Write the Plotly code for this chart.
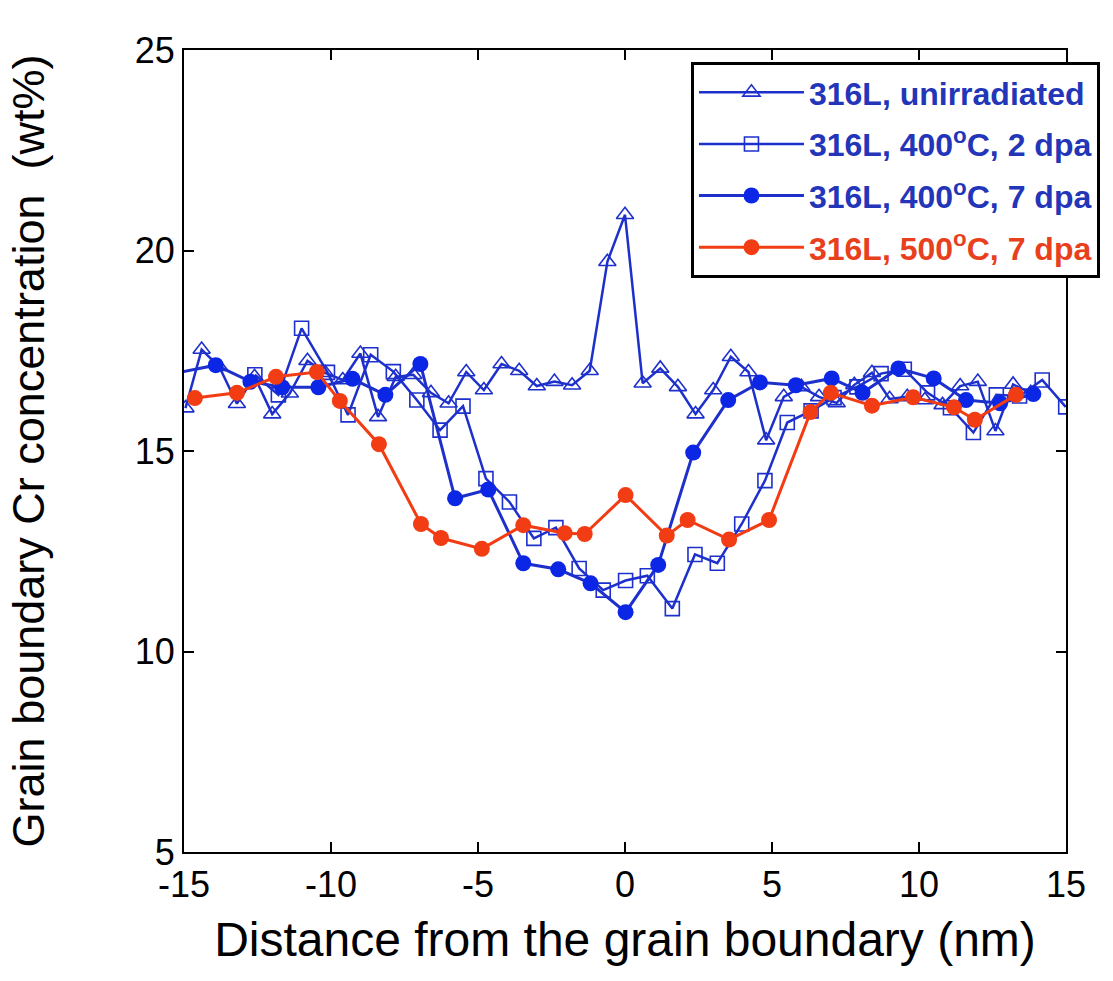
import plotly.graph_objects as go

# Cr concentration profiles across a grain boundary in 316L steel
unirr_x = [-14.95, -14.4, -13.8, -13.2, -12.6, -12.0, -11.4, -10.8, -10.2, -9.6,
           -9.0, -8.4, -7.8, -7.2, -6.6, -6.0, -5.4, -4.8, -4.2, -3.6,
           -3.0, -2.4, -1.8, -1.2, -0.6, 0.0, 0.6, 1.2, 1.8, 2.4,
           3.0, 3.6, 4.2, 4.8, 5.4, 6.0, 6.6, 7.2, 7.8, 8.4,
           9.0, 9.6, 10.2, 10.8, 11.4, 12.0, 12.6, 13.2, 13.8]
unirr_y = [16.07, 17.53, 17.1, 16.18, 16.85, 15.92, 16.44, 17.25, 16.95, 16.77,
           17.43, 15.85, 16.85, 16.9, 16.45, 16.19, 16.97, 16.52, 17.17, 17.0,
           16.62, 16.73, 16.64, 17.0, 19.72, 20.89, 16.69, 17.06, 16.6, 15.92,
           16.52, 17.35, 16.97, 15.27, 16.35, 16.6, 16.35, 16.2, 16.65, 16.95,
           16.3, 16.35, 16.27, 16.15, 16.62, 16.73, 15.5, 16.66, 16.45]

d2_x = [-12.59, -11.79, -11.0, -10.12, -9.42, -8.65, -7.88, -7.08, -6.29, -5.51,
        -4.73, -3.93, -3.1, -2.35, -1.56, -0.74, 0.02, 0.76, 1.61, 2.38,
        3.14, 3.97, 4.76, 5.52, 6.33, 7.11, 7.89, 8.71, 9.5, 10.29,
        11.07, 11.85, 12.63, 13.42, 14.19, 14.99]
d2_y = [16.9, 16.4, 18.06, 16.96, 15.9, 17.4, 16.98, 16.27, 15.52, 16.12,
        14.31, 13.73, 12.82, 13.09, 12.07, 11.53, 11.77, 11.89, 11.07, 12.42,
        12.2, 13.18, 14.26, 15.71, 16.0, 16.33, 16.6, 16.93, 17.04, 16.45,
        16.08, 15.46, 16.4, 16.37, 16.77, 16.1]

d7_x = [-15.35, -13.92, -12.74, -11.66, -10.43, -9.27, -8.15, -6.96, -5.78, -4.65,
        -3.46, -2.27, -1.17, 0.02, 1.13, 2.32, 3.51, 4.59, 5.81, 7.03,
        8.08, 9.3, 10.5, 11.6, 12.76, 13.89]
d7_y = [16.93, 17.14, 16.73, 16.59, 16.59, 16.8, 16.4, 17.17, 13.82, 14.04,
        12.2, 12.05, 11.7, 10.98, 12.16, 14.96, 16.27, 16.71, 16.64, 16.81,
        16.45, 17.06, 16.81, 16.27, 16.19, 16.42]

t500_x = [-14.63, -13.2, -11.87, -10.48, -9.7, -8.37, -6.94, -6.26, -4.87, -3.46,
          -2.05, -1.37, 0.02, 1.42, 2.13, 3.54, 4.9, 6.31, 7.0, 8.4,
          9.8, 11.19, 11.9, 13.3]
t500_y = [16.32, 16.45, 16.85, 16.97, 16.25, 15.17, 13.18, 12.83, 12.56, 13.15,
          12.95, 12.93, 13.9, 12.89, 13.28, 12.79, 13.28, 15.97, 16.45, 16.13,
          16.34, 16.09, 15.78, 16.4]

x_ticks = [-15, -10, -5, 0, 5, 10, 15]
y_ticks = [5, 10, 15, 20, 25]

BLUE = "#1e30cc"
BLUE_FILL = "#0b26e4"
RED = "#f23c14"
BLUE_TXT = "#2335b8"
RED_TXT = "#e8401c"
FONT = "Arial, Liberation Sans, sans-serif"

fig = go.Figure()

fig.add_trace(go.Scatter(
    x=unirr_x, y=unirr_y, mode="lines+markers",
    name=f'<b><span style="color:{BLUE_TXT}">316L, unirradiated</span></b>',
    line=dict(color=BLUE, width=2.5),
    marker=dict(symbol="triangle-up-open", size=15, color=BLUE, line=dict(width=1.6)),
    legendgroup="a",
))
fig.add_trace(go.Scatter(
    x=d2_x, y=d2_y, mode="lines+markers",
    name=f'<b><span style="color:{BLUE_TXT}">316L, 400<sup>o</sup>C, 2 dpa</span></b>',
    line=dict(color=BLUE, width=2.5),
    marker=dict(symbol="square-open", size=14, color=BLUE, line=dict(width=1.6)),
    legendgroup="b",
))
fig.add_trace(go.Scatter(
    x=d7_x, y=d7_y, mode="lines+markers",
    name=f'<b><span style="color:{BLUE_TXT}">316L, 400<sup>o</sup>C, 7 dpa</span></b>',
    line=dict(color=BLUE, width=3),
    marker=dict(symbol="circle", size=16, color=BLUE_FILL),
    legendgroup="c",
))
fig.add_trace(go.Scatter(
    x=t500_x, y=t500_y, mode="lines+markers",
    name=f'<b><span style="color:{RED_TXT}">316L, 500<sup>o</sup>C, 7 dpa</span></b>',
    line=dict(color=RED, width=3),
    marker=dict(symbol="circle", size=16, color=RED),
    legendgroup="d",
))

axis_common = dict(
    showgrid=False, zeroline=False,
    showline=True, linecolor="black", linewidth=2, mirror="ticks",
    ticks="inside", ticklen=10, tickwidth=2, tickcolor="black",
    tickfont=dict(family=FONT, size=36, color="black"),
)

fig.update_xaxes(
    range=[-15, 15], tickvals=x_ticks, ticktext=[str(v) for v in x_ticks],
    title=dict(text="Distance from the grain boundary (nm)",
               font=dict(family=FONT, size=48, color="black"),
               standoff=18),
    **axis_common,
)
fig.update_yaxes(
    range=[5, 25], tickvals=y_ticks, ticktext=[str(v) for v in y_ticks],
    title=dict(text="Grain boundary Cr concentration  (wt%)",
               font=dict(family=FONT, size=45, color="black"),
               standoff=76),
    **axis_common,
)

fig.update_layout(
    width=1113, height=981,
    margin=dict(l=184, r=47, t=50, b=129),
    plot_bgcolor="white", paper_bgcolor="white",
    legend=dict(
        x=1.0385, xanchor="right", y=0.985, yanchor="top",
        bgcolor="white", bordercolor="black", borderwidth=3,
        font=dict(family=FONT, size=32),
        tracegroupgap=7, itemwidth=105,
    ),
    showlegend=True,
)

fig.write_html("out.html")
